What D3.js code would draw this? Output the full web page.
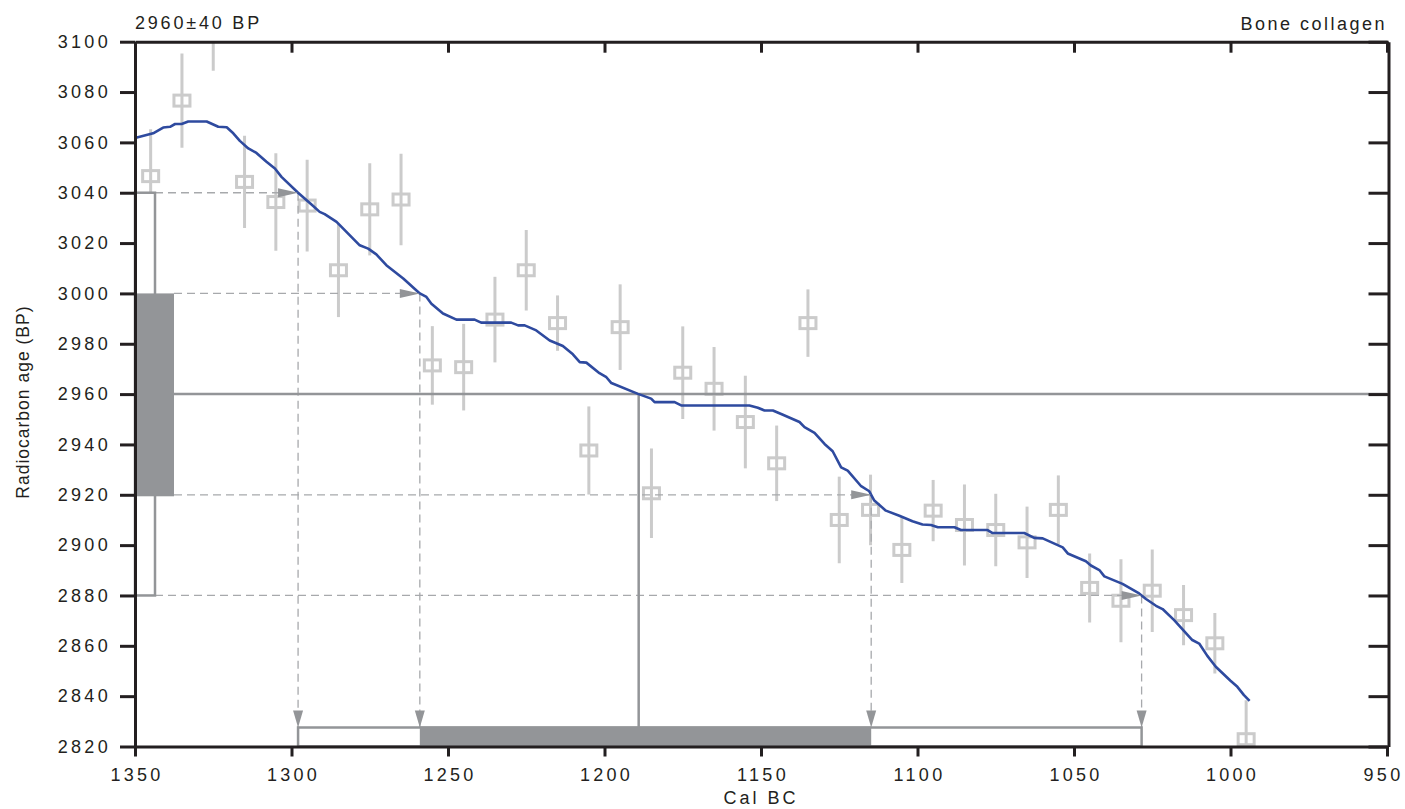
<!DOCTYPE html>
<html>
<head>
<meta charset="utf-8">
<script src="https://cdn.jsdelivr.net/npm/d3@7"></script>
<style>
  html, body { margin: 0; padding: 0; background: #fff; }
  svg { display: block; font-family: "Liberation Sans", Arial, Helvetica, sans-serif; }
</style>
</head>
<body>
<svg id="chart" width="1405" height="809"></svg>
<script>
// calibration curve (cal BC, radiocarbon BP)
const curveYear = [1350, 1344.2, 1341, 1338.8, 1337.2, 1335.1, 1333, 1327.1, 1323.4, 1320.7, 1318.6, 1316.5,
  1313.8, 1311.2, 1308, 1305.3, 1303.2, 1297.9, 1293.7, 1291, 1289.4, 1285.6, 1278.2, 1275.5, 1272.9, 1269.7,
  1264.3, 1259, 1256.9, 1255.3, 1251.6, 1247.3, 1241.5, 1239.4, 1229.8, 1227.6, 1225.5, 1221.8, 1217.5, 1213.3,
  1210.1, 1207.9, 1205.8, 1201.6, 1199.4, 1197.8, 1189.3, 1185.1, 1184, 1177.6, 1175.5, 1153.7, 1151, 1148.9,
  1146.2, 1143, 1137.7, 1136.1, 1132.9, 1129.7, 1127.1, 1124.4, 1122.3, 1118, 1115.4, 1113.8, 1110.1, 1105.8,
  1101.6, 1098.4, 1095.7, 1093.5, 1088.2, 1086.1, 1077.6, 1076, 1065.9, 1062.7, 1060, 1053.6, 1052, 1046.2,
  1044.6, 1041.9, 1040.3, 1034.5, 1029.2, 1027, 1023.8, 1021.7, 1018, 1015.9, 1012.2, 1010, 1007.4, 1004.7,
  1000, 997.8, 995.7, 993.9];
const curveBP = [3061.7, 3063.6, 3065.9, 3066.2, 3067.3, 3067.3, 3068.3, 3068.3, 3066.2, 3066, 3063.6, 3060.6,
  3057.6, 3055.8, 3052.3, 3049.6, 3046.3, 3040, 3035.4, 3032.4, 3031.5, 3028.4, 3019.1, 3017.8, 3015.5, 3011.2,
  3005.9, 3000, 2998.6, 2995.9, 2992, 2989.6, 2989.6, 2988.4, 2988.4, 2987.3, 2987.3, 2985.3, 2981.3, 2979.1,
  2975.8, 2972.7, 2972.5, 2968.3, 2966.7, 2964.4, 2960.1, 2958.2, 2956.8, 2956.8, 2955.5, 2955.5, 2954.6, 2953.5,
  2953.5, 2951.8, 2948.9, 2946.9, 2944.6, 2940.2, 2937.3, 2930.9, 2929.6, 2923.4, 2921.4, 2917.7, 2913.7, 2911.7,
  2909.5, 2908.2, 2908, 2907.1, 2907.1, 2906, 2906, 2904.8, 2904.8, 2902.9, 2902.7, 2899.1, 2896.7, 2893.6,
  2891.9, 2890.1, 2887.6, 2884.6, 2880.8, 2878.6, 2875.9, 2874.6, 2870.2, 2867.3, 2862.3, 2860.9, 2856, 2851.7,
  2846.1, 2843.7, 2840.4, 2838.1];

// decadal measurements behind the curve
const sampleYear = [1345, 1335, 1325, 1315, 1305, 1295, 1285, 1275, 1265, 1255, 1245, 1235, 1225, 1215, 1205,
  1195, 1185, 1175, 1165, 1155, 1145, 1135, 1125, 1115, 1105, 1095, 1085, 1075, 1065, 1055, 1045, 1035, 1025,
  1015, 1005, 995];
const sampleBP = [3046.6, 3076.6, 3107, 3044.3, 3036.3, 3034.9, 3009.2, 3033.4, 3037.3, 2971.4, 2970.7, 2989.6,
  3009.2, 2988.2, 2937.6, 2986.6, 2920.6, 2968.5, 2962.1, 2948.9, 2932.5, 2988.2, 2910, 2914, 2898.1, 2913.7,
  2908, 2906, 2901.1, 2914, 2883, 2877.9, 2881.9, 2872.2, 2861, 2822.9];
const sampleErr = [18.6, 18.7, 18.5, 18.3, 19.4, 18.2, 18.6, 18.3, 18.2, 15.6, 17.2, 17, 16, 11, 17.5, 17,
  17.8, 18.4, 16.6, 18.4, 15, 13.4, 17.2, 14, 13.1, 12.2, 16.1, 14.4, 14.2, 13.7, 13.7, 16.5, 16.4, 12, 12, 15.5];

// the date being calibrated
const dateBP = 2960;
const dateErr = 40;
const oneSigmaBP = [3000, 2920];
const twoSigmaBP = [3040, 2880];

const xTicks = [1350, 1300, 1250, 1200, 1150, 1100, 1050, 1000, 950];
const yTicks = [2820, 2840, 2860, 2880, 2900, 2920, 2940, 2960, 2980, 3000, 3020, 3040, 3060, 3080, 3100];

const INK = '#231f20';
const GREY = '#939598';
const DASH = '#a7a9ac';
const POINT = '#cbcbcb';
const BLUE = '#2e4a9f';

const svg = d3.select('#chart');
const x = d3.scaleLinear().domain([1350, 950]).range([135, 1387]);
const y = d3.scaleLinear().domain([2820, 3100]).range([746.5, 41.7]);
const [x0, x1] = x.range();
const [yBot, yTop] = y.range();

const curve = curveYear.map((yr, i) => ({ yr, bp: curveBP[i] }));

// year where the curve first drops through a given BP value
function crossing(bp) {
  for (let i = 1; i < curve.length; i++) {
    const a = curve[i - 1], b = curve[i];
    if (a.bp >= bp && b.bp < bp) {
      const t = (a.bp - bp) / (a.bp - b.bp);
      return a.yr + t * (b.yr - a.yr);
    }
  }
  return null;
}

svg.append('defs').append('clipPath').attr('id', 'plot-clip')
  .append('rect')
  .attr('x', x0).attr('y', yTop)
  .attr('width', x1 - x0).attr('height', yBot - yTop);

// measurements
const pts = svg.append('g').attr('clip-path', 'url(#plot-clip)');
sampleYear.forEach((yr, i) => {
  const cx = x(yr), cy = y(sampleBP[i]);
  pts.append('line')
    .attr('x1', cx).attr('x2', cx)
    .attr('y1', y(sampleBP[i] + sampleErr[i]))
    .attr('y2', y(sampleBP[i] - sampleErr[i]))
    .attr('stroke', POINT).attr('stroke-width', 3);
  pts.append('rect')
    .attr('x', cx - 8).attr('y', cy - 5.5)
    .attr('width', 16).attr('height', 11)
    .attr('fill', 'none').attr('stroke', POINT).attr('stroke-width', 3);
});

const boxNarrow = 20;  // 2 sigma box width on the BP axis
const boxWide = 39;    // 1 sigma box width
const barTop = 727.5;  // top of the cal BC range bars

// dashed projections
const guides = svg.append('g')
  .attr('stroke', DASH).attr('stroke-width', 1.3).attr('stroke-dasharray', '8,5').attr('fill', 'none');
const levels = [
  { bp: twoSigmaBP[0], from: x0 + boxNarrow },
  { bp: oneSigmaBP[0], from: x0 + boxWide },
  { bp: oneSigmaBP[1], from: x0 + boxWide },
  { bp: twoSigmaBP[1], from: x0 + boxNarrow },
];
levels.forEach(l => { l.yr = crossing(l.bp); });
levels.forEach(l => {
  guides.append('line')
    .attr('x1', l.from).attr('x2', x(l.yr))
    .attr('y1', y(l.bp)).attr('y2', y(l.bp));
  guides.append('line')
    .attr('x1', x(l.yr)).attr('x2', x(l.yr))
    .attr('y1', y(l.bp)).attr('y2', barTop);
});

// BP boxes on the left
svg.append('rect')
  .attr('x', x0).attr('y', y(twoSigmaBP[0]))
  .attr('width', boxNarrow).attr('height', y(twoSigmaBP[1]) - y(twoSigmaBP[0]))
  .attr('fill', '#fff').attr('stroke', GREY).attr('stroke-width', 2.5);
svg.append('rect')
  .attr('x', x0).attr('y', y(oneSigmaBP[0]))
  .attr('width', boxWide).attr('height', y(oneSigmaBP[1]) - y(oneSigmaBP[0]) + 1.5)
  .attr('fill', GREY);

// mean date and its intercept
const meanYear = crossing(dateBP);
svg.append('line')
  .attr('x1', x0 + boxWide).attr('x2', x1)
  .attr('y1', y(dateBP)).attr('y2', y(dateBP))
  .attr('stroke', GREY).attr('stroke-width', 2.5);
svg.append('line')
  .attr('x1', x(meanYear)).attr('x2', x(meanYear))
  .attr('y1', y(dateBP)).attr('y2', barTop)
  .attr('stroke', GREY).attr('stroke-width', 2.5);

// cal BC range bars
const yr2 = [levels[0].yr, levels[3].yr];
const yr1 = [levels[1].yr, levels[2].yr];
svg.append('rect')
  .attr('x', x(yr2[0])).attr('y', barTop)
  .attr('width', x(yr2[1]) - x(yr2[0])).attr('height', yBot - barTop)
  .attr('fill', '#fff').attr('stroke', GREY).attr('stroke-width', 2.5);
svg.append('rect')
  .attr('x', x(yr1[0])).attr('y', barTop - 1)
  .attr('width', x(yr1[1]) - x(yr1[0])).attr('height', yBot - barTop + 1)
  .attr('fill', GREY);

// calibration curve
svg.append('path')
  .datum(curve)
  .attr('fill', 'none')
  .attr('stroke', BLUE)
  .attr('stroke-width', 2.6)
  .attr('stroke-linejoin', 'round')
  .attr('d', d3.line().x(d => x(d.yr)).y(d => y(d.bp)));

// arrowheads
const arrows = svg.append('g').attr('fill', GREY);
levels.forEach(l => {
  const tx = x(l.yr), ty = y(l.bp);
  arrows.append('path').attr('d', `M${tx},${ty}L${tx - 20},${ty - 4.5}L${tx - 20},${ty + 4.5}Z`);
  arrows.append('path').attr('d', `M${tx},${barTop}L${tx - 5},${barTop - 17}L${tx + 5},${barTop - 17}Z`);
});

// axes
function styleAxis(g) {
  g.select('.domain').attr('stroke', INK).attr('stroke-width', 3);
  g.selectAll('.tick line').attr('stroke', INK).attr('stroke-width', 3);
  g.selectAll('.tick text')
    .attr('fill', INK)
    .attr('font-size', 18)
    .attr('letter-spacing', '3.3px');
}

svg.append('g')
  .attr('transform', `translate(0,${yBot})`)
  .call(d3.axisBottom(x).tickValues(xTicks).tickSize(10).tickSizeOuter(0).tickPadding(12).tickFormat(d3.format('d')))
  .call(styleAxis)
  .call(g => g.selectAll('.tick text').attr('dx', d => (d === 950 ? -4 : 1.5)));

svg.append('g')
  .attr('transform', `translate(0,${yTop})`)
  .call(d3.axisTop(x).tickValues(xTicks).tickSize(-11).tickSizeOuter(0).tickFormat(''))
  .call(styleAxis);

svg.append('g')
  .attr('transform', `translate(${x0},0)`)
  .call(d3.axisLeft(y).tickValues(yTicks).tickSize(15).tickSizeOuter(0).tickPadding(9).tickFormat(d3.format('d')))
  .call(styleAxis);

svg.append('g')
  .attr('transform', `translate(${x1 + 1.5},0)`)
  .call(d3.axisRight(y).tickValues(yTicks).tickSize(-20).tickSizeOuter(0).tickFormat(''))
  .call(styleAxis);

// titles
svg.append('text')
  .attr('x', x0).attr('y', 29)
  .attr('fill', INK).attr('font-size', 18).attr('letter-spacing', '2.8px')
  .text(`${dateBP}±${dateErr} BP`);

svg.append('text')
  .attr('x', 1387).attr('y', 30)
  .attr('text-anchor', 'end')
  .attr('fill', INK).attr('font-size', 18).attr('letter-spacing', '2.5px')
  .text('Bone collagen');

svg.append('text')
  .attr('x', (x0 + x1) / 2).attr('y', 804)
  .attr('text-anchor', 'middle')
  .attr('fill', INK).attr('font-size', 18).attr('letter-spacing', '3px')
  .text('Cal BC');

svg.append('text')
  .attr('transform', `translate(29,${(yTop + yBot) / 2 + 8}) rotate(-90)`)
  .attr('text-anchor', 'middle')
  .attr('fill', INK).attr('font-size', 17.5).attr('letter-spacing', '1px')
  .text('Radiocarbon age (BP)');
</script>
</body>
</html>
